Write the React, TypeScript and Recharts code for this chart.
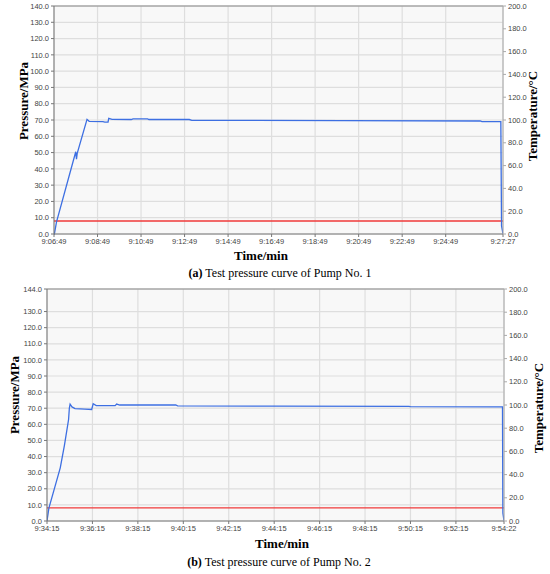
import React from 'react';
import { LineChart, Line, XAxis, YAxis, CartesianGrid, ReferenceLine } from 'recharts';

// ---------- Pump No. 1 ----------
const timeTicksA = ['9:06:49', '9:08:49', '9:10:49', '9:12:49', '9:14:49', '9:16:49', '9:18:49', '9:20:49', '9:22:49', '9:24:49', '9:27:27'];
const pressureTimesA = [0, 1, 7, 60, 62, 64, 91, 97, 135, 140, 149, 151, 160, 213, 218, 258, 262, 373, 380, 800, 1175, 1180, 1232, 1234, 1238];
const pressureA = [0, 0, 7.5, 50.5, 46, 49.5, 70.4, 69.2, 69.0, 68.7, 68.7, 71.0, 70.4, 70.3, 70.7, 70.7, 70.3, 70.3, 69.8, 69.6, 69.4, 69.0, 69.0, 5, 0];
const tempTimesA = [0, 1238];
const temperatureA = [11.4, 11.4];
const leftTicksA = [0, 10, 20, 30, 40, 50, 60, 70, 80, 90, 100, 110, 120, 130, 140];

// ---------- Pump No. 2 ----------
const timeTicksB = ['9:34:15', '9:36:15', '9:38:15', '9:40:15', '9:42:15', '9:44:15', '9:46:15', '9:48:15', '9:50:15', '9:52:15', '9:54:22'];
const pressureTimesB = [0, 5, 35, 46, 57, 59, 61, 66, 74, 100, 118, 122, 130, 180, 184, 192, 340, 345, 600, 955, 960, 1203, 1204, 1207];
const pressureB = [0, 8, 33, 47, 63, 70, 72.5, 70.8, 69.8, 69.5, 69.2, 72.8, 71.6, 71.6, 72.6, 72.0, 72.0, 71.5, 71.3, 71.2, 71.0, 70.8, 5, 0];
const tempTimesB = [0, 1207];
const temperatureB = [11.3, 11.3];
const leftTicksB = [0, 10, 20, 30, 40, 50, 60, 70, 80, 90, 100, 110, 120, 130, 144];

const rightTicks = [0, 20, 40, 60, 80, 100, 120, 140, 160, 180, 200];

const toSec = (s: string) => {
  const [h, m, sec] = s.split(':').map(Number);
  return h * 3600 + m * 60 + sec;
};
const offsets = (labels: string[]) => labels.map((l) => toSec(l) - toSec(labels[0]));

const zipRows = (times: number[], vals: number[], key: string) =>
  times.map((t, i) => ({ t, [key]: vals[i] }));

const tickStyle = { fontSize: 7.5, fill: '#444', fontFamily: 'Liberation Sans' };

type PanelProps = {
  top: number;
  height: number;
  marginTop: number;
  xAxisH: number;
  leftW: number;
  rightW: number;
  timeTicks: string[];
  pTimes: number[];
  pVals: number[];
  tTimes: number[];
  tVals: number[];
  leftTicks: number[];
  leftMax: number;
};

function Panel(p: PanelProps) {
  const tickSecs = offsets(p.timeTicks);
  const maxT = tickSecs[tickSecs.length - 1];
  const pData = zipRows(p.pTimes, p.pVals, 'pressure');
  const tData = zipRows(p.tTimes, p.tVals, 'temperature');
  return (
    <div style={{ position: 'absolute', left: 0, top: p.top }}>
      <LineChart width={550} height={p.height} margin={{ top: p.marginTop, right: 0, left: 0, bottom: 0 }}>
        <CartesianGrid
          yAxisId="left"
          stroke="#dedede"
          strokeWidth={1.2}
          fill="#f8f8f8"
          horizontalValues={p.leftTicks}
          verticalValues={tickSecs}
        />
        <XAxis
          dataKey="t"
          type="number"
          domain={[0, maxT]}
          ticks={tickSecs}
          interval={0}
          allowDataOverflow
          tickFormatter={(v: number) => p.timeTicks[tickSecs.indexOf(v)] ?? ''}
          tick={tickStyle}
          tickSize={3}
          stroke="#777"
          height={p.xAxisH}
        />
        <YAxis
          yAxisId="left"
          orientation="left"
          width={p.leftW}
          domain={[0, p.leftMax]}
          ticks={p.leftTicks}
          interval={0}
          tickFormatter={(v: number) => v.toFixed(1)}
          tick={tickStyle}
          tickSize={3}
          stroke="#777"
        />
        <YAxis
          yAxisId="right"
          orientation="right"
          width={p.rightW}
          domain={[0, 200]}
          ticks={rightTicks}
          interval={0}
          tickFormatter={(v: number) => v.toFixed(1)}
          tick={tickStyle}
          tickSize={3}
          stroke="#aaa"
        />
        <ReferenceLine yAxisId="left" y={p.leftMax} stroke="#888" strokeWidth={1.2} />
        <Line
          yAxisId="right"
          data={tData}
          dataKey="temperature"
          stroke="#f03a3a"
          strokeWidth={1.3}
          dot={false}
          isAnimationActive={false}
          type="linear"
        />
        <Line
          yAxisId="left"
          data={pData}
          dataKey="pressure"
          stroke="#3d6fe2"
          strokeWidth={1.3}
          dot={false}
          isAnimationActive={false}
          type="linear"
        />
      </LineChart>
    </div>
  );
}

const rotLabel = (text: string, cx: number, cy: number) => (
  <div
    style={{
      position: 'absolute',
      left: cx,
      top: cy,
      transform: 'translate(-50%, -50%) rotate(-90deg)',
      whiteSpace: 'nowrap',
      fontFamily: 'Liberation Serif',
      fontWeight: 'bold',
      fontSize: 13,
      lineHeight: '13px',
      color: '#000',
    }}
  >
    {text}
  </div>
);

const centerText = (content: React.ReactNode, cx: number, cy: number, size: number, bold: boolean) => (
  <div
    style={{
      position: 'absolute',
      left: cx,
      top: cy,
      transform: 'translate(-50%, -50%)',
      whiteSpace: 'nowrap',
      fontFamily: 'Liberation Serif',
      fontWeight: bold ? 'bold' : 'normal',
      fontSize: size,
      lineHeight: `${size}px`,
      color: '#000',
    }}
  >
    {content}
  </div>
);

export default function App() {
  return (
    <div style={{ position: 'absolute', left: 0, top: 0, width: 550, height: 574, background: '#fff', overflow: 'hidden' }}>
      <Panel
        top={0}
        height={252}
        marginTop={6}
        xAxisH={18}
        leftW={54}
        rightW={47}
        timeTicks={timeTicksA}
        pTimes={pressureTimesA}
        pVals={pressureA}
        tTimes={tempTimesA}
        tVals={temperatureA}
        leftTicks={leftTicksA}
        leftMax={140}
      />
      <Panel
        top={280}
        height={260}
        marginTop={9}
        xAxisH={19}
        leftW={47}
        rightW={46}
        timeTicks={timeTicksB}
        pTimes={pressureTimesB}
        pVals={pressureB}
        tTimes={tempTimesB}
        tVals={temperatureB}
        leftTicks={leftTicksB}
        leftMax={144}
      />
      {rotLabel('Pressure/MPa', 23, 101)}
      {rotLabel('Temperature/°C', 532, 116)}
      {rotLabel('Pressure/MPa', 14, 395)}
      {rotLabel('Temperature/°C', 538, 408)}
      {centerText('Time/min', 261, 255, 13, true)}
      {centerText('Time/min', 282, 543, 13, true)}
      {centerText(<span><b>(a)</b> Test pressure curve of Pump No. 1</span>, 280, 273, 12, false)}
      {centerText(<span><b>(b)</b> Test pressure curve of Pump No. 2</span>, 279, 562, 12, false)}
    </div>
  );
}
